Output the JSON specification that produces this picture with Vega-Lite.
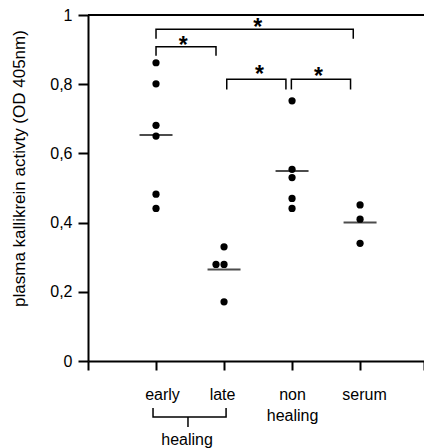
{
  "$schema": "https://vega.github.io/schema/vega-lite/v6.json",
  "width": 336,
  "height": 346,
  "autosize": {"type": "none"},
  "padding": {"left": 88, "top": 15, "right": 0, "bottom": 87},
  "config": {
    "view": {"stroke": null},
    "font": "Liberation Sans",
    "axis": {
      "domainColor": "black", "domainWidth": 2, "tickColor": "black", "tickWidth": 2,
      "labelColor": "black", "labelFontSize": 16, "labelFont": "Liberation Sans", "grid": false
    }
  },
  "data": {"values": [
    {"g": 1, "x": 1, "y": 0.862},
    {"g": 1, "x": 1, "y": 0.801},
    {"g": 1, "x": 1, "y": 0.681},
    {"g": 1, "x": 1, "y": 0.650},
    {"g": 1, "x": 1, "y": 0.482},
    {"g": 1, "x": 1, "y": 0.441},
    {"g": 2, "x": 2, "y": 0.330},
    {"g": 2, "x": 1.882, "y": 0.279},
    {"g": 2, "x": 2, "y": 0.279},
    {"g": 2, "x": 2, "y": 0.171},
    {"g": 3, "x": 3, "y": 0.752},
    {"g": 3, "x": 3, "y": 0.554},
    {"g": 3, "x": 3, "y": 0.530},
    {"g": 3, "x": 3, "y": 0.470},
    {"g": 3, "x": 3, "y": 0.441},
    {"g": 4, "x": 4, "y": 0.451},
    {"g": 4, "x": 4, "y": 0.410},
    {"g": 4, "x": 4, "y": 0.340}
  ]},
  "encoding": {
    "x": {
      "field": "x", "type": "quantitative",
      "scale": {"domain": [0, 4.94], "nice": false, "zero": false},
      "axis": {
        "title": null, "values": [0, 1, 2, 3, 4, 4.94], "tickSize": 9, "labelPadding": 16,
        "labelExpr": "datum.value == 1 ? 'early' : datum.value == 2 ? 'late' : datum.value == 3 ? ['non', 'healing'] : datum.value == 4 ? 'serum' : ''",
        "labelOffset": {"condition": [{"test": "datum.value == 1", "value": 6}, {"test": "datum.value == 2", "value": -2}, {"test": "datum.value == 4", "value": 4}], "value": 0},
        "labelLineHeight": 21, "labelBaseline": "top", "labelFlush": false, "labelOverlap": false
      }
    },
    "y": {
      "field": "y", "type": "quantitative",
      "scale": {"domain": [0, 1], "nice": false},
      "axis": {
        "title": "plasma kallikrein activty (OD 405nm)",
        "values": [0, 0.2, 0.4, 0.6, 0.8, 1], "format": ".1~f",
        "labelExpr": "replace(datum.label, '.', ',')",
        "tickSize": 10, "labelPadding": 6,
        "titleFontSize": 17, "titleFontWeight": "normal", "titleColor": "black",
        "titleX": -64, "titleY": 153, "titleAngle": -90, "titleBaseline": "alphabetic", "titleAlign": "center"
      }
    }
  },
  "layer": [
    {
      "mark": {"type": "rule", "color": "black", "strokeWidth": 2},
      "encoding": {"x": null, "y": {"datum": 1}}
    },
    {
      "mark": {"type": "circle", "size": 52, "color": "black", "opacity": 1}
    },
    {
      "transform": [{"aggregate": [{"op": "mean", "field": "y", "as": "y"}], "groupby": ["g"]}],
      "mark": {"type": "tick", "orient": "horizontal", "size": 33, "thickness": 2, "color": "black"},
      "encoding": {"x": {"field": "g", "type": "quantitative", "axis": {"title": null}}}
    },
    {
      "data": {"values": [
        {"b": "a", "o": 1, "x": 1.0, "y": 0.931},
        {"b": "a", "o": 2, "x": 1.0, "y": 0.959},
        {"b": "a", "o": 3, "x": 3.90, "y": 0.959},
        {"b": "a", "o": 4, "x": 3.90, "y": 0.931},
        {"b": "b", "o": 1, "x": 1.0, "y": 0.882},
        {"b": "b", "o": 2, "x": 1.0, "y": 0.908},
        {"b": "b", "o": 3, "x": 1.882, "y": 0.908},
        {"b": "b", "o": 4, "x": 1.882, "y": 0.882},
        {"b": "c", "o": 1, "x": 2.04, "y": 0.785},
        {"b": "c", "o": 2, "x": 2.04, "y": 0.814},
        {"b": "c", "o": 3, "x": 2.91, "y": 0.814},
        {"b": "c", "o": 4, "x": 2.91, "y": 0.785},
        {"b": "d", "o": 1, "x": 2.99, "y": 0.785},
        {"b": "d", "o": 2, "x": 2.99, "y": 0.814},
        {"b": "d", "o": 3, "x": 3.86, "y": 0.814},
        {"b": "d", "o": 4, "x": 3.86, "y": 0.785},
        {"b": "h", "o": 1, "x": 0.956, "y": -0.136},
        {"b": "h", "o": 2, "x": 0.956, "y": -0.162},
        {"b": "h", "o": 3, "x": 2.03, "y": -0.162},
        {"b": "h", "o": 4, "x": 2.03, "y": -0.136},
        {"b": "i", "o": 1, "x": 1.47, "y": -0.162},
        {"b": "i", "o": 2, "x": 1.47, "y": -0.191}
      ]},
      "mark": {"type": "line", "color": "black", "strokeWidth": 1.5, "clip": false},
      "encoding": {"detail": {"field": "b"}, "order": {"field": "o", "type": "quantitative"}}
    },
    {
      "data": {"values": [
        {"x": 2.496, "y": 0.978, "t": "*"},
        {"x": 1.40, "y": 0.925, "t": "*"},
        {"x": 2.52, "y": 0.840, "t": "*"},
        {"x": 3.39, "y": 0.834, "t": "*"}
      ]},
      "mark": {"type": "text", "fontSize": 23, "fontWeight": "bold", "baseline": "middle", "dy": 5, "color": "black"},
      "encoding": {"text": {"field": "t"}}
    },
    {
      "data": {"values": [{"x": 1.456, "y": -0.243, "t": "healing"}]},
      "mark": {"type": "text", "fontSize": 16, "baseline": "alphabetic", "color": "black"},
      "encoding": {"text": {"field": "t"}}
    }
  ]
}
